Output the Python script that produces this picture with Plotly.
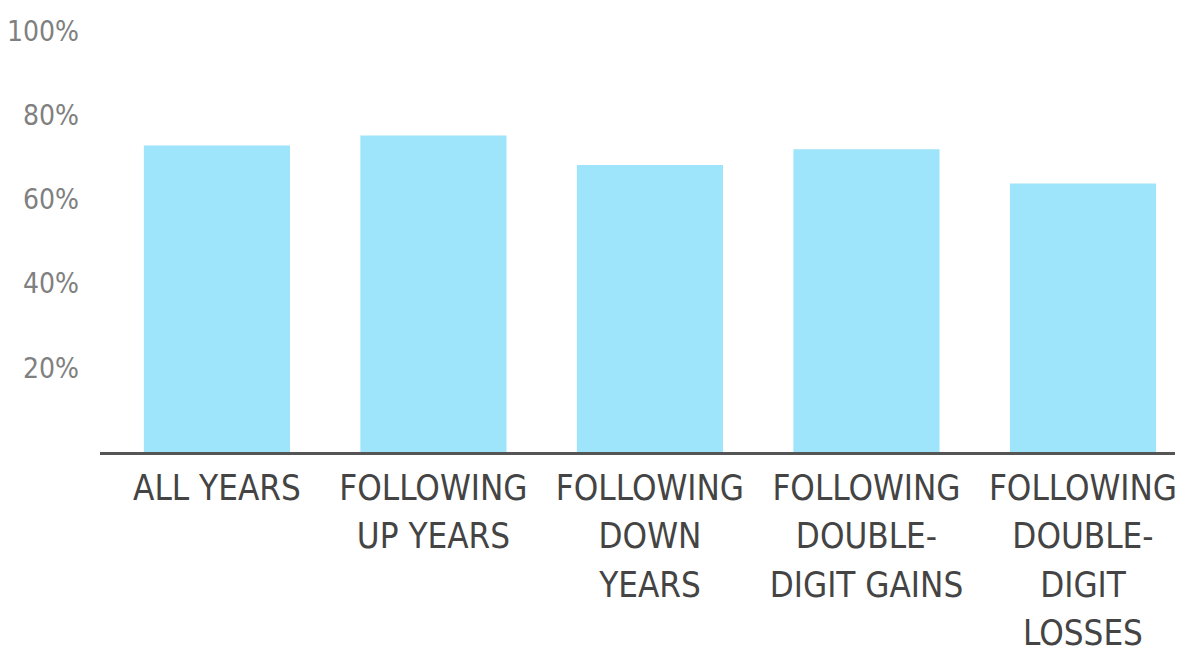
import plotly.graph_objects as go

category_lines = [
    ["ALL YEARS"],
    ["FOLLOWING", "UP YEARS"],
    ["FOLLOWING", "DOWN", "YEARS"],
    ["FOLLOWING", "DOUBLE-", "DIGIT GAINS"],
    ["FOLLOWING", "DOUBLE-", "DIGIT", "LOSSES"],
]
values = [72.8, 75.2, 68.2, 71.9, 63.8]
tick_vals = [20, 40, 60, 80, 100]
tick_text = ["20%", "40%", "60%", "80%", "100%"]

FONT = "Liberation Sans Narrow, DejaVu Sans Condensed, Arial Narrow, sans-serif"

# base font size sets the line spacing (1.3 em); spans set the glyph size
ticktext_x = [
    "<br>".join(f"<span style='font-size:34.7px'>{ln}</span>" for ln in lines)
    for lines in category_lines
]

fig = go.Figure(
    go.Bar(
        x=list(range(len(category_lines))),
        y=values,
        marker=dict(color="#9EE4FA", line=dict(width=0)),
        hoverinfo="skip",
    )
)

fig.update_layout(
    width=1181,
    height=653,
    margin=dict(l=100, r=6, t=31, b=201),
    paper_bgcolor="white",
    plot_bgcolor="white",
    bargap=0.325,
    showlegend=False,
    font=dict(family=FONT),
)

fig.update_xaxes(
    range=[-0.54, 4.425],
    automargin=False,
    tickmode="array",
    tickvals=list(range(len(category_lines))),
    ticktext=ticktext_x,
    tickfont=dict(size=37.4, color="#444444", family=FONT),
    showline=True,
    linecolor="#555555",
    linewidth=2.5,
    showgrid=False,
    zeroline=False,
    ticks="",
    ticklabelstandoff=0,
)

fig.update_yaxes(
    range=[0, 100],
    automargin=False,
    tickmode="array",
    tickvals=tick_vals,
    ticktext=tick_text,
    tickfont=dict(size=28, color="#808080", family=FONT),
    showline=False,
    showgrid=False,
    zeroline=False,
    ticks="",
    ticklabelstandoff=20,
)

fig.write_html("out.html")
